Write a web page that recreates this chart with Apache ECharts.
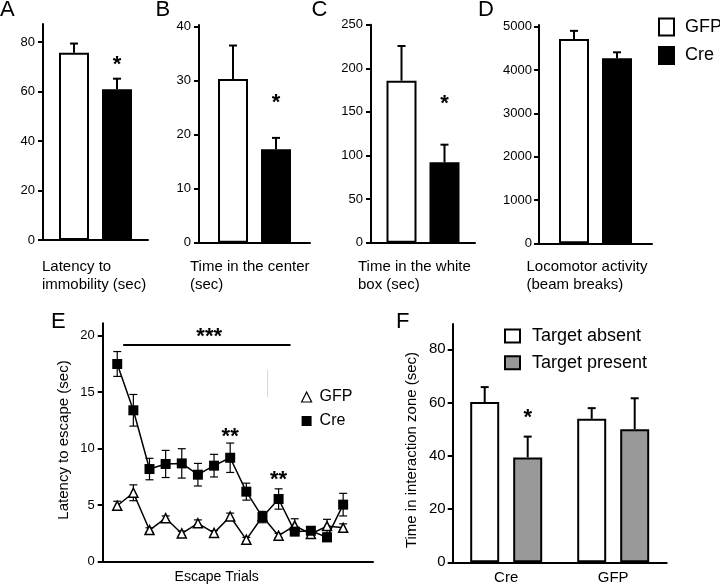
<!DOCTYPE html>
<html><head><meta charset="utf-8">
<script src="https://cdn.jsdelivr.net/npm/echarts@6/dist/echarts.min.js"></script>
<style>html,body{margin:0;padding:0;background:#fff}#c{width:720px;height:586px}</style>
</head><body><div id="c"></div>
<script>
// ---------- DATA ----------
const groups = ['GFP', 'Cre'];
// Panel A: Latency to immobility (sec)
const aMean = [75.7, 60.9];
const aErr = [3.7, 4.3];
const aTicks = [0, 20, 40, 60, 80];
const aStar = ['', '*'];
const aStarAt = [0, 72.7];
// Panel B: Time in the center (sec)
const bMean = [30.3, 17.3];
const bErr = [6.2, 2.1];
const bTicks = [0, 10, 20, 30, 40];
const bStar = ['', '*'];
const bStarAt = [0, 26.8];
// Panel C: Time in the white box (sec)
const cMean = [185.8, 92.2];
const cErr = [39.8, 20.2];
const cTicks = [0, 50, 100, 150, 200, 250];
const cStar = ['', '*'];
const cStarAt = [0, 164.8];
// Panel D: Locomotor activity (beam breaks)
const dMean = [4715, 4270];
const dErr = [190, 140];
const dTicks = [0, 1000, 2000, 3000, 4000, 5000];
const dStar = ['', ''];
const dStarAt = [0, 0];
// Panel E: Latency to escape over trials
const trials = [1, 2, 3, 4, 5, 6, 7, 8, 9, 10, 11, 12, 13, 14, 15];
const creMean = [17.5, 13.4, 8.2, 8.65, 8.7, 7.7, 8.5, 9.2, 6.2, 3.95, 5.55, 2.66, 2.74, 2.15, 5.05];
const creErr = [1.1, 1.4, 0.95, 1.2, 1.3, 1.0, 1.0, 1.3, 0.75, 0.5, 0.9, 0.3, 0.3, 0.3, 1.0];
const gfpMean = [4.95, 6.1, 2.8, 3.85, 2.5, 3.4, 2.55, 4.0, 1.95, 4.0, 2.3, 3.2, 2.45, 3.15, 3.0];
const gfpErr = [0.4, 0.7, 0.2, 0.2, 0.2, 0.3, 0.2, 0.3, 0.2, 0.4, 0.2, 0.6, 0.3, 0.6, 0.35];
const eTicks = [0, 5, 10, 15, 20];
const eStarText = ['***', '**', '**'];
const eStarX = [6.7, 8, 11];
const eStarY = [20.3, 11.5, 7.7];
const eSigFrom = [1.37, 19.2];
const eSigTo = [11.74, 19.2];
// Panel F: Time in interaction zone (sec)
const fGroups = ['Cre', 'GFP'];
const absentMean = [60.2, 53.9];
const absentErr = [5.6, 4.0];
const presentMean = [39.4, 50.0];
const presentErr = [7.8, 11.6];
const fTicks = [0, 20, 40, 60, 80];
const fStar = ['', ''];
const fStarPresent = ['*', ''];
const fStarAt = [56, 0];

// ---------- HELPERS ----------
const FONT = '"Liberation Sans", Arial, Helvetica, sans-serif';
const BW = 30, GAP = 13;              // bar width / gap (px) for A-D
const OFF = (BW + GAP) / 2;
const FBW = 29, FGAP = 14;
const FOFF = (FBW + FGAP) / 2;

function yAxisOf(gi, max, ticks, fs, margin) {
  return {
    type: 'value', gridIndex: gi, min: 0, max: max,
    splitLine: { show: false },
    axisLine: { show: true, lineStyle: { color: '#000', width: 2 } },
    axisTick: { show: true, length: 5, lineStyle: { color: '#000', width: 2 }, customValues: ticks },
    axisLabel: { color: '#000', fontSize: fs, fontFamily: FONT, margin: margin, customValues: ticks,
      formatter: v => String(v) }
  };
}
function catAxis(gi, data, showLabels) {
  return {
    type: 'category', gridIndex: gi, data: data,
    axisLine: { show: true, onZero: false, lineStyle: { color: '#000', width: 2 } },
    axisTick: { show: false },
    axisLabel: showLabels ? { color: '#000', fontSize: 15, fontFamily: FONT, margin: 8 } : { show: false },
    splitLine: { show: false }
  };
}
function starEl(x, y, txt) {
  return { type: 'text', x: x, y: y + 5,
    style: { text: txt, fill: '#000', font: 'bold 22px ' + FONT, align: 'center', verticalAlign: 'middle', textAlign: 'center', textVerticalAlign: 'middle' } };
}
// upward-only error bars (bar panels)
function upErr(gi, xs, means, errs, sides, offset, stars, starAt) {
  return {
    type: 'custom', xAxisIndex: gi, yAxisIndex: gi, z: 5, silent: true,
    data: means.map((m, i) => [xs[i], m, errs[i]]),
    renderItem: function (p, api) {
      const i = p.dataIndex;
      const x = api.coord([api.value(0), 0])[0] + sides[i] * offset;
      const yb = api.coord([api.value(0), api.value(1)])[1];
      const yt = api.coord([api.value(0), api.value(1) + api.value(2)])[1];
      const ch = [
        { type: 'line', shape: { x1: x, y1: yb, x2: x, y2: yt }, style: { stroke: '#000', lineWidth: 2 } },
        { type: 'line', shape: { x1: x - 4, y1: yt, x2: x + 4, y2: yt }, style: { stroke: '#000', lineWidth: 2 } }
      ];
      if (stars[i]) ch.push(starEl(x, api.coord([api.value(0), starAt[i]])[1], stars[i]));
      return { type: 'group', children: ch };
    }
  };
}
// two-sided error bars (line panel)
function bothErr(gi, xs, means, errs) {
  return {
    type: 'custom', xAxisIndex: gi, yAxisIndex: gi, z: 1, silent: true,
    data: means.map((m, i) => [xs[i], m, errs[i]]),
    renderItem: function (p, api) {
      const x = api.coord([api.value(0), 0])[0];
      const y1 = api.coord([api.value(0), api.value(1) + api.value(2)])[1];
      const y2 = api.coord([api.value(0), api.value(1) - api.value(2)])[1];
      const st = { stroke: '#000', lineWidth: 1.2 };
      return { type: 'group', children: [
        { type: 'line', shape: { x1: x, y1: y1, x2: x, y2: y2 }, style: st },
        { type: 'line', shape: { x1: x - 4, y1: y1, x2: x + 4, y2: y1 }, style: st },
        { type: 'line', shape: { x1: x - 4, y1: y2, x2: x + 4, y2: y2 }, style: st }
      ] };
    }
  };
}
function barPair(gi, means) {
  return [
    { type: 'bar', name: groups[0], xAxisIndex: gi, yAxisIndex: gi, data: [means[0]], barWidth: BW, barGap: (GAP / BW * 100) + '%',
      itemStyle: { color: '#fff', borderColor: '#000', borderWidth: 2 }, silent: true },
    { type: 'bar', name: groups[1], xAxisIndex: gi, yAxisIndex: gi, data: [means[1]], barWidth: BW,
      itemStyle: { color: '#000', borderColor: '#000', borderWidth: 2 }, silent: true }
  ];
}
function gtext(x, y, txt, size, extra) {
  return { type: 'text', x: x, y: y,
    style: Object.assign({ text: txt, fill: '#000', font: size + 'px ' + FONT, align: 'left', verticalAlign: 'middle', textAlign: 'left', textVerticalAlign: 'middle', lineHeight: 18 }, extra || {}) };
}

// ---------- LAYOUT ----------
const grids = [
  { left: 43, top: 24, width: 105, height: 216 },          // A
  { left: 199, top: 25, width: 111, height: 217.7 },       // B
  { left: 371, top: 24.7, width: 104, height: 218 },       // C
  { left: 539, top: 25, width: 113, height: 218.3 },       // D
  { left: 102.7, top: 323.3, width: 270.3, height: 238.4 },// E
  { left: 452.7, top: 324, width: 214, height: 238.3 }     // F
];

const xAxes = [
  catAxis(0, ['v'], false), catAxis(1, ['v'], false), catAxis(2, ['v'], false), catAxis(3, ['v'], false),
  { type: 'value', gridIndex: 4, min: 0.1, max: 16.85, axisLine: { show: true, onZero: false, lineStyle: { color: '#000', width: 2 } },
    axisTick: { show: false }, axisLabel: { show: false }, splitLine: { show: false } },
  catAxis(5, fGroups, true)
];
const yAxes = [
  yAxisOf(0, 87.3, aTicks, 13, 8),
  yAxisOf(1, 40.3, bTicks, 13, 8),
  yAxisOf(2, 250, cTicks, 13, 8),
  yAxisOf(3, 5040, dTicks, 13, 7),
  yAxisOf(4, 21.1, eTicks, 13, 8),
  yAxisOf(5, 89.5, fTicks, 15, 7)
];

const series = [].concat(
  barPair(0, aMean), barPair(1, bMean), barPair(2, cMean), barPair(3, dMean),
  [
    upErr(0, [0, 0], aMean, aErr, [-1, 1], OFF, aStar, aStarAt),
    upErr(1, [0, 0], bMean, bErr, [-1, 1], OFF, bStar, bStarAt),
    upErr(2, [0, 0], cMean, cErr, [-1, 1], OFF, cStar, cStarAt),
    upErr(3, [0, 0], dMean, dErr, [-1, 1], OFF, dStar, dStarAt)
  ],
  [
    bothErr(4, trials, creMean, creErr),
    bothErr(4, trials, gfpMean, gfpErr),
    { type: 'line', name: 'E-GFP', xAxisIndex: 4, yAxisIndex: 4, z: 3, silent: true,
      data: trials.map((t, i) => [t, gfpMean[i]]),
      symbol: 'triangle', symbolSize: 9,
      itemStyle: { color: '#fff', borderColor: '#000', borderWidth: 1.5 },
      lineStyle: { color: '#000', width: 1.5 } },
    { type: 'line', name: 'E-Cre', xAxisIndex: 4, yAxisIndex: 4, z: 4, silent: true,
      data: trials.map((t, i) => [t, creMean[i]]),
      symbol: 'rect', symbolSize: 10,
      itemStyle: { color: '#000', borderColor: '#000', borderWidth: 0 },
      lineStyle: { color: '#000', width: 1.5 },
      markLine: { silent: true, symbol: 'none', label: { show: false }, animation: false,
        data: [
          [{ coord: eSigFrom, lineStyle: { color: '#000', width: 2, type: 'solid' } }, { coord: eSigTo }],
          [{ coord: [10.3, 17.0], lineStyle: { color: '#d8d8d8', width: 1, type: 'solid' } }, { coord: [10.3, 14.6] }]
        ] } },
    { type: 'custom', xAxisIndex: 4, yAxisIndex: 4, z: 6, silent: true,
      data: eStarX.map((x, i) => [x, eStarY[i]]),
      renderItem: function (p, api) {
        const pt = api.coord([api.value(0), api.value(1)]);
        return starEl(pt[0], pt[1], eStarText[p.dataIndex]);
      } }
  ],
  [
    { type: 'bar', name: 'Target absent', xAxisIndex: 5, yAxisIndex: 5, data: absentMean, barWidth: FBW, barGap: (FGAP / FBW * 100) + '%',
      itemStyle: { color: '#fff', borderColor: '#000', borderWidth: 2 }, silent: true },
    { type: 'bar', name: 'Target present', xAxisIndex: 5, yAxisIndex: 5, data: presentMean, barWidth: FBW,
      itemStyle: { color: '#999999', borderColor: '#000', borderWidth: 2 }, silent: true },
    upErr(5, [0, 1], absentMean, absentErr, [-1, -1], FOFF, fStar, fStarAt),
    upErr(5, [0, 1], presentMean, presentErr, [1, 1], FOFF, fStarPresent, fStarAt)
  ]
);

const legends = [
  { left: 658, top: 17.5, padding: 0, orient: 'vertical', itemWidth: 15, itemHeight: 17, itemGap: 9.5, selectedMode: false,
    textStyle: { color: '#000', fontSize: 18, fontFamily: FONT, padding: [0, 0, 0, 6] },
    data: [
      { name: 'GFP', icon: 'rect', itemStyle: { color: '#fff', borderColor: '#000', borderWidth: 2 } },
      { name: 'Cre', icon: 'rect', itemStyle: { color: '#000', borderColor: '#000', borderWidth: 2 } }
    ] },
  { left: 301, top: 389, padding: 0, orient: 'vertical', itemWidth: 10, itemHeight: 10, itemGap: 8, selectedMode: false,
    formatter: n => n.replace('E-', ''),
    textStyle: { color: '#000', fontSize: 16, fontFamily: FONT, padding: [0, 0, 0, 3] },
    data: [
      { name: 'E-GFP', icon: 'triangle', itemStyle: { color: '#fff', borderColor: '#000', borderWidth: 1.2 } },
      { name: 'E-Cre', icon: 'rect', itemStyle: { color: '#000', borderColor: '#000', borderWidth: 0 } }
    ] },
  { left: 504, top: 327, padding: 0, orient: 'vertical', itemWidth: 15, itemHeight: 13, itemGap: 8.7, selectedMode: false,
    textStyle: { color: '#000', fontSize: 18, fontFamily: FONT, padding: [0, 0, 0, 7] },
    data: [
      { name: 'Target absent', icon: 'rect', itemStyle: { color: '#fff', borderColor: '#000', borderWidth: 2 } },
      { name: 'Target present', icon: 'rect', itemStyle: { color: '#999999', borderColor: '#000', borderWidth: 2 } }
    ] }
];

const graphics = [
  gtext(0, 9.5, 'A', 22), gtext(155.5, 9.5, 'B', 22), gtext(311.5, 9.5, 'C', 22), gtext(478, 9.5, 'D', 22),
  gtext(51, 322, 'E', 22), gtext(396, 322, 'F', 22),
  gtext(42, 276, 'Latency to\nimmobility (sec)', 15),
  gtext(190, 276, 'Time in the center\n(sec)', 15),
  gtext(358, 276, 'Time in the white\nbox (sec)', 15),
  gtext(526.5, 276, 'Locomotor activity\n(beam breaks)', 15),
  gtext(216.7, 577, 'Escape Trials', 14, { align: 'center', textAlign: 'center' }),
  Object.assign(gtext(63.5, 440, 'Latency to escape (sec)', 15, { align: 'center', textAlign: 'center' }), { rotation: Math.PI / 2 }),
  Object.assign(gtext(411.7, 450, 'Time in interaction zone (sec)', 15, { align: 'center', textAlign: 'center' }), { rotation: Math.PI / 2 })
];

const chart = echarts.init(document.getElementById('c'), null, { renderer: 'canvas' });
chart.setOption({
  animation: false,
  backgroundColor: '#fff',
  textStyle: { fontFamily: FONT },
  grid: grids,
  xAxis: xAxes,
  yAxis: yAxes,
  legend: legends,
  series: series,
  graphic: { elements: graphics }
});
</script></body></html>
